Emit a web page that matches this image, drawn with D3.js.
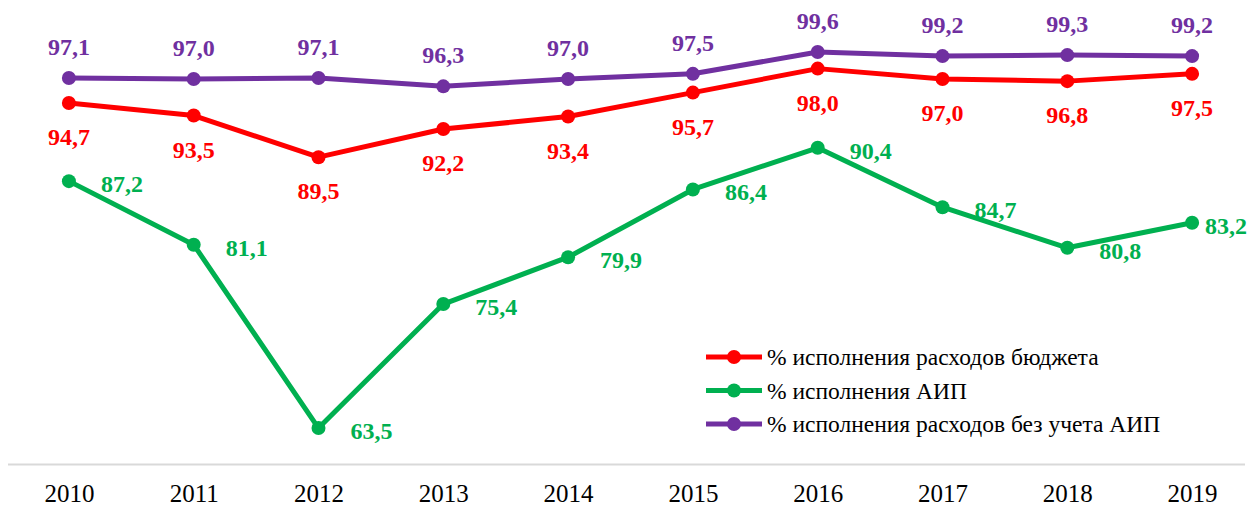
<!DOCTYPE html>
<html>
<head>
<meta charset="utf-8">
<script src="https://cdn.jsdelivr.net/npm/d3@7"></script>
<style>
  body { margin: 0; background: #fff; }
  svg { display: block; }
</style>
</head>
<body>
<div id="chart"></div>
<script>
const years = ["2010", "2011", "2012", "2013", "2014", "2015", "2016", "2017", "2018", "2019"];
const budget = [94.7, 93.5, 89.5, 92.2, 93.4, 95.7, 98.0, 97.0, 96.8, 97.5];
const aip = [87.2, 81.1, 63.5, 75.4, 79.9, 86.4, 90.4, 84.7, 80.8, 83.2];
const withoutAip = [97.1, 97.0, 97.1, 96.3, 97.0, 97.5, 99.6, 99.2, 99.3, 99.2];
const seriesNames = ["% исполнения расходов бюджета", "% исполнения АИП", "% исполнения расходов без учета АИП"];

const width = 1250, height = 508;
const FONT = '"Times New Roman"';

const svg = d3.select("#chart").append("svg")
    .attr("width", width)
    .attr("height", height);

const x = d3.scalePoint()
    .domain(years)
    .range([6.5, 1254.5])
    .padding(0.5);

const y = d3.scaleLinear()
    .domain([60, 105])
    .range([464.5, -4.3]);

// x axis
const xAxis = svg.append("g")
    .attr("transform", `translate(0,${y(60)})`)
    .call(d3.axisBottom(x).tickSize(0).tickPadding(20));
xAxis.select(".domain").attr("stroke", "#d9d9d9").attr("stroke-width", 2)
    .attr("d", `M8,0H1245`);
xAxis.selectAll("text")
    .style("font-family", FONT)
    .style("font-size", "25px")
    .attr("fill", "#000");

const fmt = v => v.toFixed(1).replace(".", ",");

const series = [
  {name: seriesNames[0], values: budget, color: "#ff0000", pos: "below"},
  {name: seriesNames[1], values: aip, color: "#00b050", pos: "right"},
  {name: seriesNames[2], values: withoutAip, color: "#7030a0", pos: "above"}
];

const line = d3.line()
    .x((d, i) => x(years[i]))
    .y(d => y(d));

series.forEach(s => {
  svg.append("path")
      .datum(s.values)
      .attr("d", line)
      .attr("fill", "none")
      .attr("stroke", s.color)
      .attr("stroke-width", 5)
      .attr("stroke-linejoin", "round");

  svg.selectAll(null)
      .data(s.values)
      .enter()
      .append("circle")
      .attr("cx", (d, i) => x(years[i]))
      .attr("cy", d => y(d))
      .attr("r", 7)
      .attr("fill", s.color);

  const labels = svg.selectAll(null)
      .data(s.values)
      .enter()
      .append("text")
      .text(d => fmt(d))
      .attr("fill", s.color)
      .style("font-family", FONT)
      .style("font-weight", "bold")
      .style("font-size", "24px");

  if (s.pos === "above") {
    labels.attr("x", (d, i) => x(years[i]))
        .attr("y", d => y(d) - 23)
        .attr("text-anchor", "middle");
  } else if (s.pos === "below") {
    labels.attr("x", (d, i) => x(years[i]))
        .attr("y", d => y(d) + 42)
        .attr("text-anchor", "middle");
  } else {
    // last label is pulled in so it stays inside the frame
    labels.attr("x", (d, i) => x(years[i]) + (i === years.length - 1 ? 13 : 32))
        .attr("y", d => y(d) + 11)
        .attr("text-anchor", "start");
  }
});

// legend
const legend = svg.append("g").attr("transform", "translate(706,357)");
series.forEach((s, i) => {
  const g = legend.append("g").attr("transform", `translate(0,${i * 33.5})`);
  g.append("line")
      .attr("x1", 0).attr("x2", 56)
      .attr("stroke", s.color)
      .attr("stroke-width", 5);
  g.append("circle")
      .attr("cx", 28).attr("r", 7)
      .attr("fill", s.color);
  g.append("text")
      .attr("x", 61)
      .attr("y", 8)
      .text(s.name)
      .attr("fill", "#000")
      .style("font-family", FONT)
      .style("font-size", "23.5px");
});
</script>
</body>
</html>
